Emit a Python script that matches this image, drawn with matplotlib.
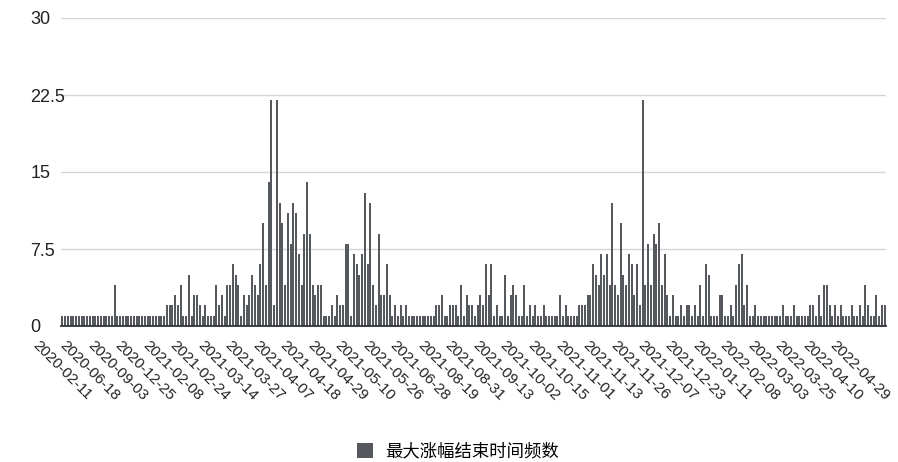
#!/usr/bin/env python3
# -*- coding: utf-8 -*-
"""
Bar chart: frequency of end dates of the largest rise
"""

import numpy as np
import matplotlib
matplotlib.use('Agg')
import matplotlib.pyplot as plt
from matplotlib.patches import Patch

plt.rcParams['font.family'] = ['Liberation Sans', 'Noto Sans CJK SC', 'DejaVu Sans']

##! Data: one row per labelled tick (10 bars each)
TickLabels = ['2020-02-11', '2020-06-18', '2020-09-03', '2020-12-25',
              '2021-02-08', '2021-02-24', '2021-03-14', '2021-03-27',
              '2021-04-07', '2021-04-18', '2021-04-29', '2021-05-10',
              '2021-05-26', '2021-06-28', '2021-08-19', '2021-08-31',
              '2021-09-13', '2021-10-02', '2021-10-15', '2021-11-01',
              '2021-11-13', '2021-11-26', '2021-12-07', '2021-12-23',
              '2022-01-11', '2022-02-08', '2022-03-03', '2022-03-25',
              '2022-04-10', '2022-04-29']

Counts = [1, 1, 1, 1, 1, 1, 1, 1, 1, 1,
          1, 1, 1, 1, 1, 1, 1, 1, 1, 4,
          1, 1, 1, 1, 1, 1, 1, 1, 1, 1,
          1, 1, 1, 1, 1, 1, 1, 1, 2, 2,
          2, 3, 2, 4, 1, 1, 5, 1, 3, 3,
          2, 1, 2, 1, 1, 1, 4, 2, 3, 1,
          4, 4, 6, 5, 4, 1, 3, 2, 3, 5,
          4, 3, 6, 10, 4, 14, 22, 2, 22, 12,
          10, 4, 11, 8, 12, 11, 7, 4, 9, 14,
          9, 4, 3, 4, 4, 1, 1, 1, 2, 1,
          3, 2, 2, 8, 8, 1, 7, 6, 5, 7,
          13, 6, 12, 4, 2, 9, 3, 3, 6, 3,
          1, 2, 1, 2, 1, 2, 1, 1, 1, 1,
          1, 1, 1, 1, 1, 1, 2, 2, 3, 1,
          1, 2, 2, 2, 1, 4, 1, 3, 2, 2,
          1, 2, 3, 2, 6, 3, 6, 1, 2, 1,
          1, 5, 1, 3, 4, 3, 1, 1, 4, 1,
          2, 1, 2, 1, 1, 2, 1, 1, 1, 1,
          1, 3, 1, 2, 1, 1, 1, 1, 2, 2,
          2, 3, 3, 6, 5, 4, 7, 5, 7, 4,
          12, 4, 3, 10, 5, 4, 7, 6, 3, 6,
          2, 22, 4, 8, 4, 9, 8, 10, 4, 7,
          3, 1, 3, 1, 1, 2, 1, 2, 2, 1,
          2, 1, 4, 1, 6, 5, 1, 1, 1, 3,
          3, 1, 1, 2, 1, 4, 6, 7, 2, 4,
          1, 1, 2, 1, 1, 1, 1, 1, 1, 1,
          1, 1, 2, 1, 1, 1, 2, 1, 1, 1,
          1, 1, 2, 2, 1, 3, 1, 4, 4, 2,
          1, 2, 1, 2, 1, 1, 1, 2, 1, 1,
          2, 1, 4, 2, 1, 1, 3, 1, 2, 2]

YTicks      = [0, 7.5, 15, 22.5, 30]
YTickLabels = ['0', '7.5', '15', '22.5', '30']
SeriesName  = '最大涨幅结束时间频数'

BarColour = '#55595e'

##! Plot:
fig = plt.figure(figsize=(8.98, 4.62), dpi=100)
ax  = fig.add_axes([61/898, 136/462, 825/898, (326-18)/462])

x = np.arange(len(Counts))
ax.bar(x, Counts, width=0.72, color=BarColour, zorder=2)

ax.set_xlim(-0.5, len(Counts) - 0.5)
ax.set_ylim(0, 30)

ax.set_yticks(YTicks)
ax.set_yticklabels(YTickLabels, fontsize=13, ha='left', color='#222222')
ax.tick_params(axis='y', length=0, pad=22)
ax.yaxis.grid(True, color='#d6d6d6', linewidth=1.0, zorder=0)

ax.set_xticks(x[::10])
ax.set_xticklabels(TickLabels, rotation=-45, fontsize=11, color='#222222')
ax.tick_params(axis='x', length=0, pad=9)

for s in ['top', 'left', 'right']:
    ax.spines[s].set_visible(False)
ax.spines['bottom'].set_color('#333333')
ax.spines['bottom'].set_linewidth(1.3)
ax.spines['bottom'].set_zorder(3)

Hndl = [Patch(facecolor=BarColour, edgecolor='none', label=SeriesName)]
fig.legend(handles=Hndl, loc='center', bbox_to_anchor=(0.51, 1 - 451/462),
           frameon=False, fontsize=12.5, handlelength=0.9, handleheight=0.9,
           handletextpad=0.7)

plt.savefig('out.png', dpi=100)
plt.close()
